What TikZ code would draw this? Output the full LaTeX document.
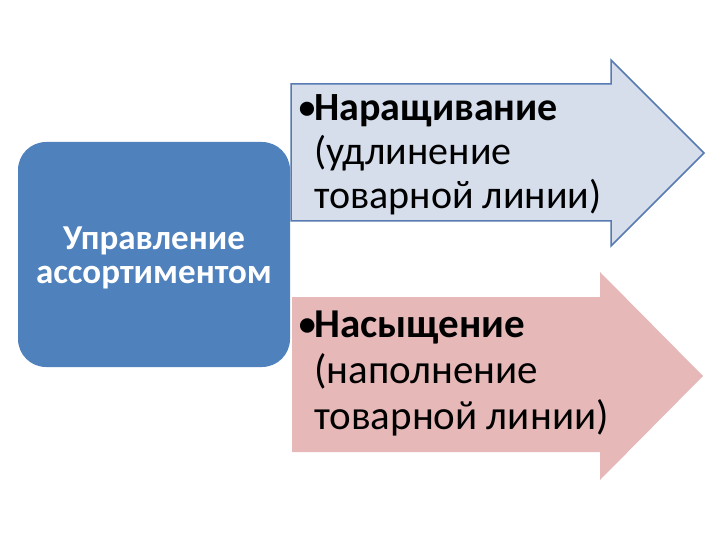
\documentclass[tikz,border=0pt]{standalone}
\usepackage{fontspec}
\setmainfont{Carlito}
\usepackage{tikz}
\usepackage{xcolor}
\usetikzlibrary{positioning}

\definecolor{boxblue}{RGB}{79,129,189}
\definecolor{growfill}{RGB}{214,222,236}
\definecolor{growline}{RGB}{88,122,178}
\definecolor{fillpink}{RGB}{230,185,184}

\tikzset{
  arrowtext/.style={anchor=north west, inner sep=0pt, align=left, font=\fontsize{40}{44}\selectfont},
}

\begin{document}
\begin{tikzpicture}[x=1pt, y=-1pt]
                \useasboundingbox (0,0) rectangle (720,540);
                % left block
                \fill[boxblue, rounded corners=28pt] (18,142) rectangle (290,367);
                \node[text=white, font=\bfseries\fontsize{35}{34}\selectfont, align=center, inner sep=0pt] (manage) at (154,258) {Управление\\ассортиментом};

                % upper arrow
                \draw[fill=growfill, draw=growline, line width=1.5pt] (291,84) -- (611,84) -- (611,60) -- (704,153) -- (611,246) -- (611,221) -- (291,221) -- cycle;
                \node[arrowtext] (grow) at (297,94) {\makebox[17pt][l]{•}\textbf{Наращивание}\\\hspace*{17pt}(удлинение\\\hspace*{17pt}товарной линии)};

                % lower arrow
                \fill[fillpink] (292,297) -- (600,297) -- (600,272) -- (703,376) -- (600,480) -- (600,452) -- (292,452) -- cycle;
                \node[arrowtext, font=\fontsize{41}{46}\selectfont] (fill) at (297,311) {\makebox[17pt][l]{•}\textbf{Насыщение}\\\hspace*{17pt}(наполнение\\\hspace*{17pt}товарной линии)};
            \end{tikzpicture}
\end{document}
